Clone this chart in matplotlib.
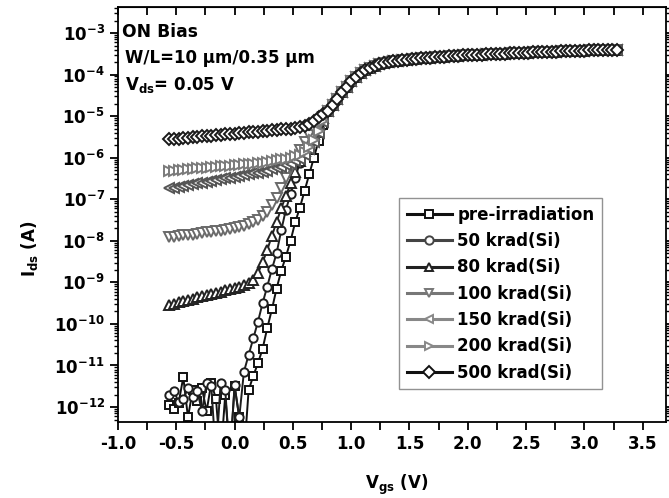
import numpy as np
import matplotlib
matplotlib.use("Agg")
import matplotlib.pyplot as plt
from matplotlib.ticker import FuncFormatter, LogLocator, MultipleLocator, NullFormatter

plt.rcParams['font.family'] = ['DejaVu Sans']
plt.rcParams['font.weight'] = 'bold'
plt.rcParams['mathtext.fontset'] = 'custom'
plt.rcParams['mathtext.rm'] = 'DejaVu Sans:bold'
plt.rcParams['mathtext.bf'] = 'DejaVu Sans:bold'
plt.rcParams['mathtext.it'] = 'DejaVu Sans:bold'
plt.rcParams['mathtext.default'] = 'bf'

# ---- data (log10 of Ids in A), Vgs sweep -0.56 V ... 3.28 V, step 0.04 V ----
vgs_start = -0.56
vgs_step = 0.04

# low-Vgs part, Vgs = -0.56 ... 0.76 (34 points)
log_pre = [-11.95, -12.05, -11.90, -11.28, -12.25, -11.60, -11.85, -11.55, -12.10, -11.42,
           -11.80, -13.20, -11.70, -13.20, -11.50, -12.25, -13.20, -11.60, -11.25, -10.95,
           -10.60, -10.10, -9.65, -9.15, -8.72, -8.38, -8.00, -7.55, -7.20, -6.80,
           -6.40, -6.00, -5.60, -5.22]
log_50k = [-11.70, -11.62, -11.88, -11.80, -11.55, -11.75, -11.62, -12.10, -11.42, -11.50,
           -13.20, -11.42, -11.60, -13.20, -11.48, -12.25, -11.15, -10.75, -10.35, -9.95,
           -9.50, -9.10, -8.68, -8.30, -7.75, -7.25, -6.88, -6.48, -6.12, -5.80,
           -5.55, -5.35, -5.18, -5.03]
log_80k = [-9.54, -9.51, -9.48, -9.45, -9.42, -9.39, -9.36, -9.34, -9.31, -9.28,
           -9.25, -9.22, -9.19, -9.16, -9.13, -9.10, -9.06, -9.02, -8.95, -8.78,
           -8.52, -8.22, -7.88, -7.55, -7.22, -6.92, -6.62, -6.34, -6.08, -5.84,
           -5.62, -5.42, -5.22, -5.05]
log_100k = [-7.91, -7.90, -7.89, -7.87, -7.86, -7.85, -7.83, -7.82, -7.80, -7.79,
            -7.77, -7.76, -7.74, -7.72, -7.70, -7.67, -7.64, -7.60, -7.55, -7.49,
            -7.41, -7.30, -7.15, -6.96, -6.74, -6.50, -6.26, -6.03, -5.82, -5.63,
            -5.46, -5.30, -5.15, -5.02]
log_150k = [-6.74, -6.72, -6.70, -6.68, -6.66, -6.64, -6.62, -6.60, -6.58, -6.56,
            -6.54, -6.52, -6.50, -6.48, -6.46, -6.44, -6.42, -6.40, -6.38, -6.36,
            -6.34, -6.31, -6.28, -6.25, -6.22, -6.18, -6.14, -6.09, -6.03, -5.94,
            -5.80, -5.62, -5.40, -5.15]
log_200k = [-6.32, -6.31, -6.30, -6.29, -6.28, -6.27, -6.26, -6.25, -6.24, -6.23,
            -6.22, -6.21, -6.20, -6.19, -6.18, -6.17, -6.16, -6.15, -6.14, -6.13,
            -6.12, -6.10, -6.08, -6.06, -6.04, -6.02, -6.00, -5.97, -5.93, -5.86,
            -5.74, -5.57, -5.36, -5.12]
log_500k = [-5.56, -5.55, -5.54, -5.53, -5.52, -5.51, -5.50, -5.49, -5.48, -5.47,
            -5.46, -5.45, -5.44, -5.43, -5.42, -5.41, -5.40, -5.39, -5.38, -5.37,
            -5.36, -5.35, -5.34, -5.33, -5.32, -5.31, -5.30, -5.28, -5.26, -5.23,
            -5.18, -5.11, -5.03, -4.96]

# common on-state part, Vgs = 0.80 ... 3.28 (63 points), same for all doses
log_on = [-4.88, -4.73, -4.58, -4.43, -4.29, -4.16, -4.05, -3.96, -3.89, -3.83,
          -3.785, -3.75, -3.72, -3.70, -3.68, -3.665, -3.65, -3.64, -3.63, -3.62,
          -3.61, -3.60, -3.59, -3.58, -3.575, -3.57, -3.56, -3.555, -3.55, -3.54,
          -3.535, -3.53, -3.525, -3.52, -3.515, -3.51, -3.505, -3.50, -3.495, -3.49,
          -3.485, -3.48, -3.475, -3.47, -3.465, -3.46, -3.46, -3.455, -3.45, -3.445,
          -3.44, -3.44, -3.435, -3.43, -3.43, -3.425, -3.42, -3.42, -3.415, -3.41,
          -3.41, -3.405, -3.40]

labels = ['pre-irradiation', '50 krad(Si)', '80 krad(Si)', '100 krad(Si)',
          '150 krad(Si)', '200 krad(Si)', '500 krad(Si)']
series = [log_pre, log_50k, log_80k, log_100k, log_150k, log_200k, log_500k]
markers = ['s', 'o', '^', 'v', '<', '>', 'D']
colors = ['#111111', '#1e1e1e', '#222222', '#6a6a6a', '#555555', '#7a7a7a', '#1a1a1a']
legend_colors = ['#111111', '#444444', '#222222', '#777777', '#888888', '#888888', '#111111']
msizes = [5.4, 6.0, 7.0, 7.0, 7.0, 7.0, 6.2]

fig = plt.figure(figsize=(6.69, 4.98), dpi=100)
ax = fig.add_axes([118 / 669, 1 - 422 / 498, (666 - 118) / 669, (422 - 7.5) / 498])

for logv, mk, col, lab, ms in zip(series, markers, colors, labels, msizes):
    full = np.array(list(logv) + list(log_on))
    vgs = vgs_start + vgs_step * np.arange(len(full))
    ax.plot(vgs, 10.0 ** full, marker=mk, color=col, mfc='white', mec=col,
            ms=ms, mew=1.4, lw=1.4, label=lab)

ax.set_yscale('log')
ax.set_xlim(-1.0, 3.7)
ax.set_ylim(10 ** -12.36, 10 ** -2.386)

ax.xaxis.set_major_locator(MultipleLocator(0.5))
ax.xaxis.set_minor_locator(MultipleLocator(0.25))
ax.xaxis.set_major_formatter(FuncFormatter(lambda v, p: '%.1f' % v))
ax.yaxis.set_major_locator(LogLocator(base=10, numticks=20))
ax.yaxis.set_minor_locator(LogLocator(base=10, subs=np.arange(2, 10), numticks=20))
ax.yaxis.set_minor_formatter(NullFormatter())
ax.yaxis.set_major_formatter(FuncFormatter(
    lambda v, p: r'$\mathbf{10^{%d}}$' % int(round(np.log10(v)))))

ax.tick_params(axis='both', which='major', labelsize=12, width=1.3, length=6, direction='out')
ax.tick_params(axis='x', which='minor', width=1.3, length=6, direction='out')
ax.tick_params(axis='y', which='minor', width=1.0, length=3, direction='out')
ax.tick_params(axis='y', which='both', right=True)
for sp in ax.spines.values():
    sp.set_linewidth(1.3)

sec = ax.secondary_xaxis('top')
sec.xaxis.set_major_locator(MultipleLocator(0.25))
sec.tick_params(axis='x', which='major', direction='in', length=6, width=1.3, labeltop=False)
sec.xaxis.set_major_formatter(NullFormatter())

ax.set_xlabel(r'V$_{\mathbf{gs}}$ (V)', fontsize=12, fontweight='bold')
ax.set_ylabel(r'I$_{\mathbf{ds}}$ (A)', fontsize=12, fontweight='bold')
ax.xaxis.set_label_coords(0.509, -0.123)
ax.yaxis.set_label_coords(-0.142, 0.417)

ax.text(0.008, 0.962, 'ON Bias', transform=ax.transAxes, fontsize=12.3,
        fontweight='bold', va='top', ha='left')
ax.text(0.012, 0.900, 'W/L=10 \u00b5m/0.35 \u00b5m', transform=ax.transAxes, fontsize=12.0,
        fontweight='bold', va='top', ha='left')
ax.text(0.012, 0.838, r'V$_{\mathbf{ds}}$= 0.05 V', transform=ax.transAxes, fontsize=12.0,
        fontweight='bold', va='top', ha='left')

handles, labs = ax.get_legend_handles_labels()
leg = ax.legend(handles, labs, loc='upper left', bbox_to_anchor=(0.513, 0.540),
                borderaxespad=0, frameon=True, fancybox=False,
                edgecolor='#777777', handlelength=2.7, handletextpad=0.35,
                labelspacing=0.5, borderpad=0.45, prop={'weight': 'bold', 'size': 12})
leg.get_frame().set_linewidth(1.0)
for h, c in zip(leg.legend_handles, legend_colors):
    h.set_color(c)
    h.set_markeredgecolor(c)
    h.set_markerfacecolor('white')
    h.set_linewidth(2.2)
    h.set_markersize(6)

fig.savefig('out.png', dpi=100)
